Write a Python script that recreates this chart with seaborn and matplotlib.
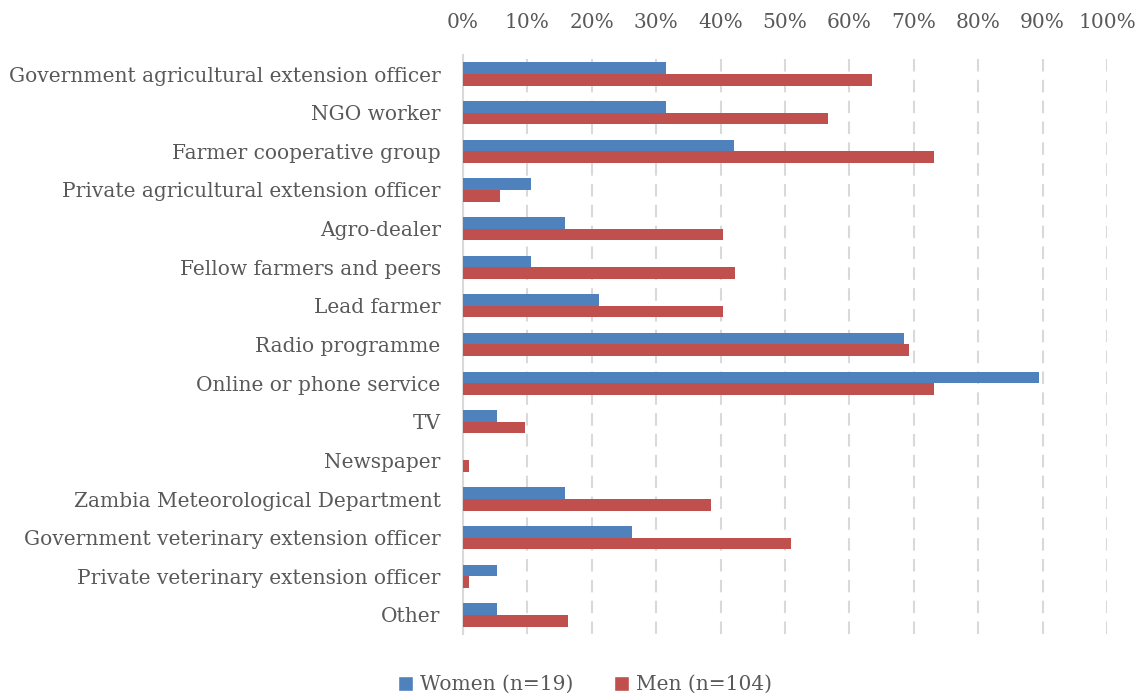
import matplotlib
matplotlib.use("Agg")
import matplotlib.pyplot as plt
from matplotlib.ticker import PercentFormatter
from matplotlib.patches import Patch
import seaborn as sns
import pandas as pd

sources = [
    "Government agricultural extension officer",
    "NGO worker",
    "Farmer cooperative group",
    "Private agricultural extension officer",
    "Agro-dealer",
    "Fellow farmers and peers",
    "Lead farmer",
    "Radio programme",
    "Online or phone service",
    "TV",
    "Newspaper",
    "Zambia Meteorological Department",
    "Government veterinary extension officer",
    "Private veterinary extension officer",
    "Other",
]
women_pct = [31.6, 31.6, 42.1, 10.5, 15.8, 10.5, 21.1, 68.4, 89.5, 5.3, 0.0, 15.8, 26.3, 5.3, 5.3]
men_pct = [63.5, 56.7, 73.1, 5.8, 40.4, 42.3, 40.4, 69.2, 73.1, 9.6, 1.0, 38.5, 51.0, 1.0, 16.3]
groups = ["Women (n=19)", "Men (n=104)"]
colors = ["#4F81BD", "#C0504D"]

df = pd.DataFrame({
    "source": sources * 2,
    "pct": women_pct + men_pct,
    "group": [groups[0]] * len(sources) + [groups[1]] * len(sources),
})

sns.set_theme(style="white")
plt.rcParams["font.family"] = ["DejaVu Serif"]
text_color = "#595959"
fs = 14.5

fig = plt.figure(figsize=(11.42, 6.97), dpi=100)
ax = fig.add_axes([0.4054, 0.09, 0.564, 0.8315])

sns.barplot(data=df, y="source", x="pct", hue="group", order=sources,
            hue_order=groups, palette=colors, orient="h", width=0.6,
            saturation=1, linewidth=0, ax=ax, legend=False)

ax.set_xlim(0, 100)
ax.set_ylim(len(sources) - 0.5, -0.5)
ax.xaxis.set_major_locator(plt.MultipleLocator(10))
ax.xaxis.set_major_formatter(PercentFormatter(decimals=0))
ax.xaxis.tick_top()
ax.tick_params(axis="x", length=0, pad=16, labelsize=fs, labelcolor=text_color)
ax.tick_params(axis="y", length=0, pad=16, labelsize=fs, labelcolor=text_color)
ax.set_xlabel("")
ax.set_ylabel("")

ax.grid(axis="x", color="#D9D9D9", linestyle=(0, (6, 4)), linewidth=1.5)
ax.set_axisbelow(True)
for side in ["top", "right", "bottom"]:
    ax.spines[side].set_visible(False)
ax.spines["left"].set_color("#D9D9D9")
ax.spines["left"].set_linewidth(1.5)
ax.spines["left"].set_zorder(0.5)

handles = [Patch(facecolor=c, label=g) for c, g in zip(colors, groups)]
fig.legend(handles=handles, loc="lower center", bbox_to_anchor=(0.512, -0.022),
           ncol=2, frameon=False, fontsize=fs, labelcolor=text_color,
           handlelength=0.75, handleheight=0.75, handletextpad=0.35,
           columnspacing=2.0)

fig.savefig("out.png", dpi=100)
